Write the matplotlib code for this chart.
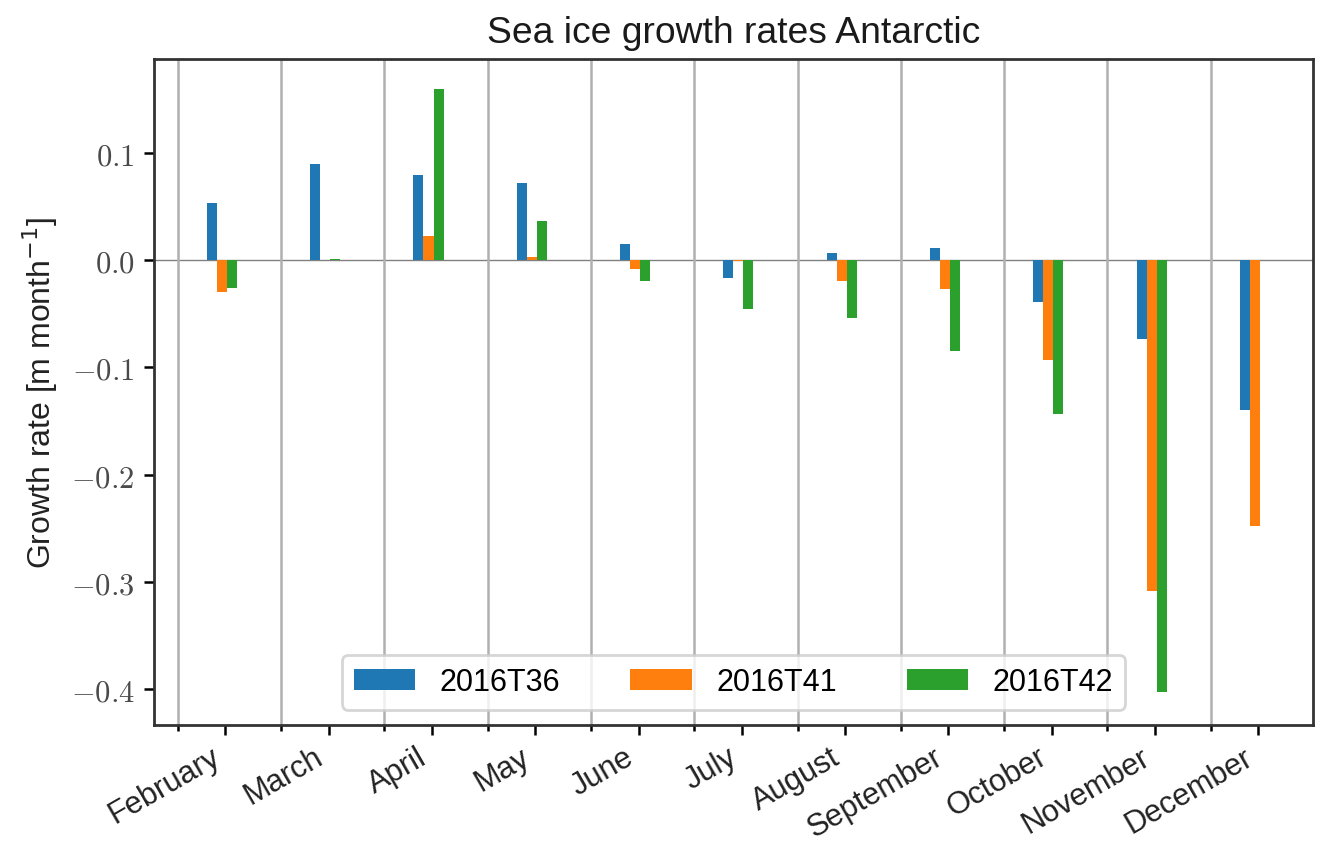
import numpy as np
import matplotlib
matplotlib.use("Agg")
import matplotlib.pyplot as plt
from matplotlib.ticker import FixedLocator, FuncFormatter

months = ["February", "March", "April", "May", "June", "July", "August",
          "September", "October", "November", "December"]
series_names = ["2016T36", "2016T41", "2016T42"]
growth_t36 = [0.053, 0.090, 0.079, 0.072, 0.015, -0.017, 0.007, 0.011, -0.039, -0.074, -0.140]
growth_t41 = [-0.030, 0.0005, 0.023, 0.003, -0.008, -0.001, -0.019, -0.027, -0.093, -0.309, -0.248]
growth_t42 = [-0.026, 0.001, 0.160, 0.037, -0.019, -0.046, -0.054, -0.085, -0.144, -0.403, np.nan]
colors = ["#1f77b4", "#ff7f0e", "#2ca02c"]

plt.rcParams["font.family"] = ["Liberation Sans", "DejaVu Sans"]
plt.rcParams["mathtext.fontset"] = "cm"

fig = plt.figure(figsize=(6.635, 4.225), dpi=200)
ax = fig.add_axes([0.116, 0.141, 0.8735, 0.788])

x = np.arange(len(months))
width = 0.097
shift = -0.033
for k, (name, vals, c) in enumerate(zip(series_names, [growth_t36, growth_t41, growth_t42], colors)):
    ax.bar(x + shift + (k - 1) * width, vals, width, color=c, label=name, zorder=2)

ax.axhline(0, color="#808080", lw=0.5, zorder=1)

ax.set_xlim(-0.691, 10.53)
ax.set_ylim(-0.4336, 0.1877)

# labelled ticks at mid-month, gridlines at month boundaries
ax.xaxis.set_major_locator(FixedLocator(x))
ax.xaxis.set_minor_locator(FixedLocator(x - 0.46))
ax.set_xticklabels(months, rotation=30, ha="right", fontsize=11.1, color="#222222")
ax.grid(which="minor", axis="x", color="#b0b0b0", lw=0.9, zorder=0)
ax.tick_params(axis="x", which="major", length=3.5, width=0.9, pad=2.5)
ax.tick_params(axis="x", which="minor", length=2.0, width=0.9)

ax.set_yticks([-0.4, -0.3, -0.2, -0.1, 0.0, 0.1])
ax.yaxis.set_major_formatter(FuncFormatter(lambda v, p: f"${v:.1f}$"))
ax.tick_params(axis="y", labelsize=11, labelcolor="#4a4a4a", length=3.5, width=0.9)

for s in ax.spines.values():
    s.set_linewidth(1.0)
    s.set_color("#333333")

ax.set_ylabel(r"Growth rate [m month$^{-1}$]", fontsize=11.5,
              math_fontfamily="dejavusans", color="#222222")
ax.set_title("Sea ice growth rates Antarctic", fontsize=13.4, color="#1a1a1a")

ax.legend(loc="lower center", ncol=3, fontsize=11, framealpha=0.8, columnspacing=2.3)

fig.savefig("out.png", dpi=200)
